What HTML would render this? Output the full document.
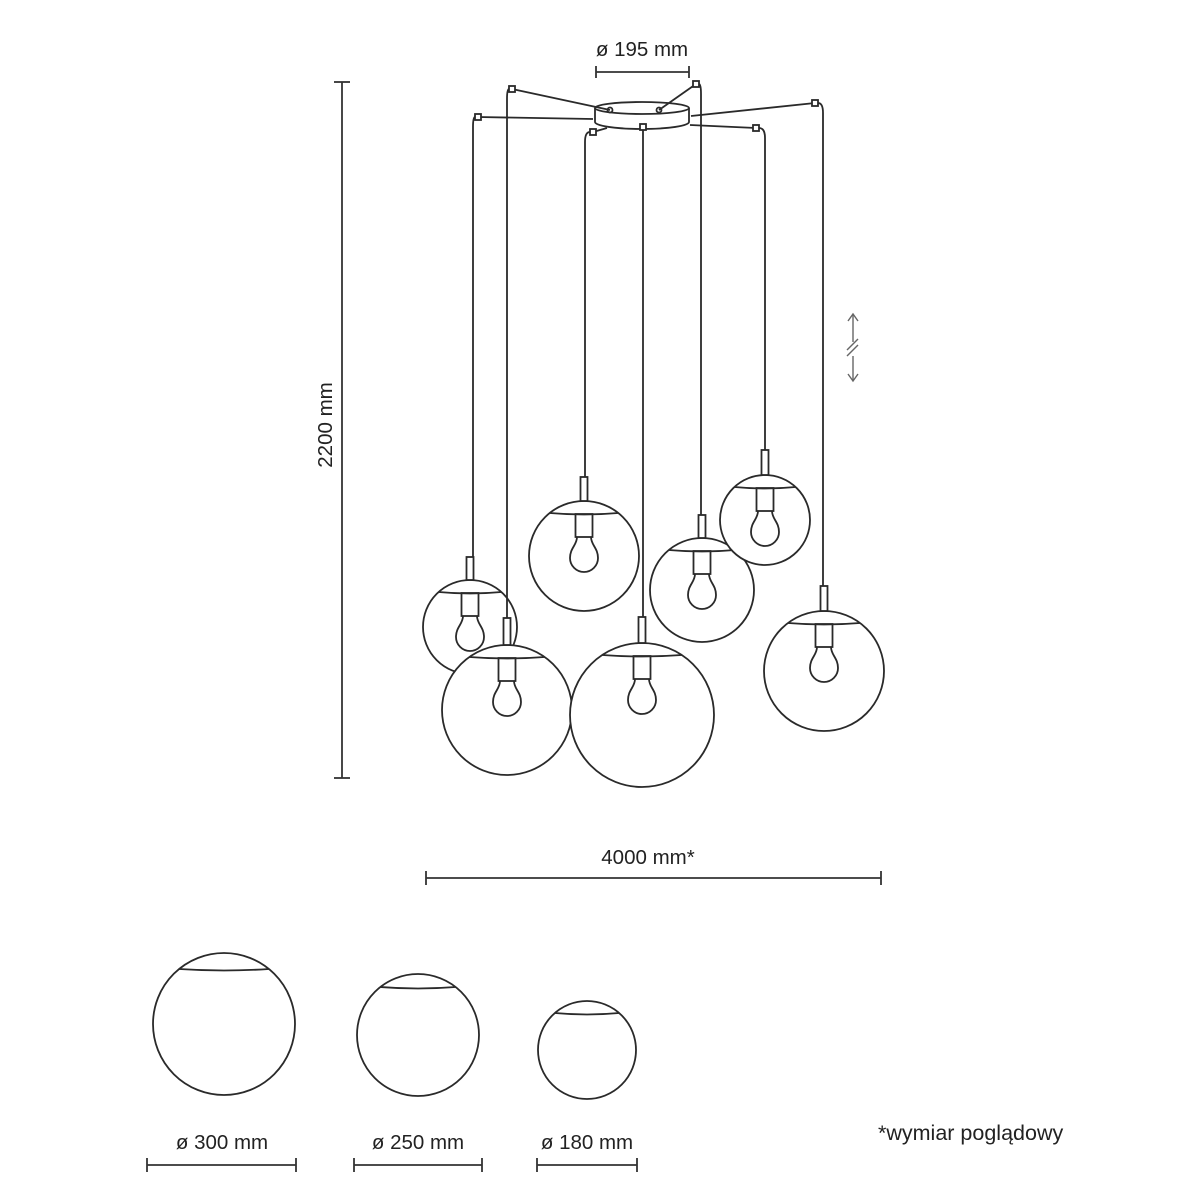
<!DOCTYPE html>
<html><head><meta charset="utf-8"><style>
html,body{margin:0;padding:0;background:#fff}
svg{display:block}
text{font-family:"Liberation Sans",sans-serif;fill:#222}
</style></head><body>
<svg id="s" width="1200" height="1200" viewBox="0 0 1200 1200" xmlns="http://www.w3.org/2000/svg">
<g stroke="#333" stroke-width="1.8" fill="none">
<line x1="596" y1="72" x2="689" y2="72"/><line x1="596" y1="66" x2="596" y2="78"/><line x1="689" y1="66" x2="689" y2="78"/>
<line x1="342" y1="82" x2="342" y2="778"/><line x1="334" y1="82" x2="350" y2="82"/><line x1="334" y1="778" x2="350" y2="778"/>
<line x1="426" y1="878" x2="881" y2="878"/><line x1="426" y1="871" x2="426" y2="885"/><line x1="881" y1="871" x2="881" y2="885"/>
<line x1="147" y1="1165" x2="296" y2="1165"/><line x1="147" y1="1158" x2="147" y2="1172"/><line x1="296" y1="1158" x2="296" y2="1172"/>
<line x1="354" y1="1165" x2="482" y2="1165"/><line x1="354" y1="1158" x2="354" y2="1172"/><line x1="482" y1="1158" x2="482" y2="1172"/>
<line x1="537" y1="1165" x2="637" y2="1165"/><line x1="537" y1="1158" x2="537" y2="1172"/><line x1="637" y1="1158" x2="637" y2="1172"/>
</g>
<g stroke="#666" stroke-width="1.4" fill="none">
<line x1="853" y1="314" x2="853" y2="342"/><line x1="853" y1="356" x2="853" y2="381"/>
<polyline points="848,321 853,314 858,321"/><polyline points="848,374 853,381 858,374"/>
<line x1="847" y1="350" x2="858" y2="339"/><line x1="847" y1="356" x2="858" y2="345"/>
</g>
<g id="lamp" stroke="#2a2a2a" stroke-width="1.8" fill="none"></g>
<text x="642" y="56" font-size="20.5" text-anchor="middle">ø 195 mm</text>
<text x="0" y="0" font-size="20.5" text-anchor="middle" transform="translate(332,425) rotate(-90)">2200 mm</text>
<text x="648" y="864" font-size="20.5" text-anchor="middle">4000 mm*</text>
<text x="222" y="1149" font-size="20.5" text-anchor="middle">ø 300 mm</text>
<text x="418" y="1149" font-size="20.5" text-anchor="middle">ø 250 mm</text>
<text x="587" y="1149" font-size="20.5" text-anchor="middle">ø 180 mm</text>
<text x="878" y="1140" font-size="21.5">*wymiar poglądowy</text>
</svg>
<script>
const g=document.getElementById('lamp');let h='';
function add(s){h+=s;}
add(`<path d="M595,108 L595,122 A47,7 0 0 0 689,122 L689,108" fill="#fff"/>`);
add(`<ellipse cx="642" cy="108" rx="47" ry="6" fill="#fff"/>`);
add(`<circle cx="610" cy="110" r="2.5"/><circle cx="659" cy="110" r="2.5"/>`);
const arms=[[512,89,610,110],[478,117,593,119],[696,84,659,110],[815,103,691,116],[756,128,690,125],[593,132,607,128]];
arms.forEach(a=>{add(`<line x1="${a[0]}" y1="${a[1]}" x2="${a[2]}" y2="${a[3]}"/>`);});
function hook(x,y){add(`<rect x="${x-3}" y="${y-3}" width="6" height="6" fill="#fff"/>`);}
function globe(wx,hx,hy,stemTop,cx,cy,r){
 let d=(hx==wx)?`M${hx},${hy+3} L${wx},${stemTop}`:`M${hx+(hx<wx?3:-3)},${hy} Q${wx},${hy} ${wx},${hy+10} L${wx},${stemTop}`;
 add(`<path d="${d}"/>`);
 const top=cy-r;
 add(`<circle cx="${cx}" cy="${cy}" r="${r}" fill="#fff"/>`);
 add(`<rect x="${cx-3.5}" y="${stemTop}" width="7" height="${top-stemTop}" fill="#fff"/>`);
 const dy=12, hw=Math.sqrt(2*r*dy-dy*dy), cy2=top+dy;
 add(`<path d="M${cx-hw},${cy2} Q${cx},${cy2+3} ${cx+hw},${cy2}"/>`);
 const s0=cy2+1;
 add(`<rect x="${cx-8.5}" y="${s0}" width="17" height="23"/>`);
 const b=s0+23;
 add(`<path d="M${cx-7},${b} C${cx-7},${b+8} ${cx-14},${b+11} ${cx-14},${b+21} A14,14 0 0 0 ${cx+14},${b+21} C${cx+14},${b+11} ${cx+7},${b+8} ${cx+7},${b}"/>`);
}
globe(473,478,117,557,470,627,47);
globe(585,593,132,477,584,556,55);
globe(701,696,84,515,702,590,52);
globe(765,756,128,450,765,520,45);
globe(823,815,103,586,824,671,60);
globe(507,512,89,618,507,710,65);
globe(643,643,127,617,642,715,72);
arms.forEach(a=>hook(a[0],a[1])); hook(643,127);
function bg(cx,cy,r,dy){const hw=Math.sqrt(2*r*dy-dy*dy),y=cy-r+dy;
 add(`<circle cx="${cx}" cy="${cy}" r="${r}"/><path d="M${cx-hw},${y} Q${cx},${y+3} ${cx+hw},${y}"/>`);}
bg(224,1024,71,16);bg(418,1035,61,13);bg(587,1050,49,12);
g.innerHTML=h;
</script>
</body></html>
